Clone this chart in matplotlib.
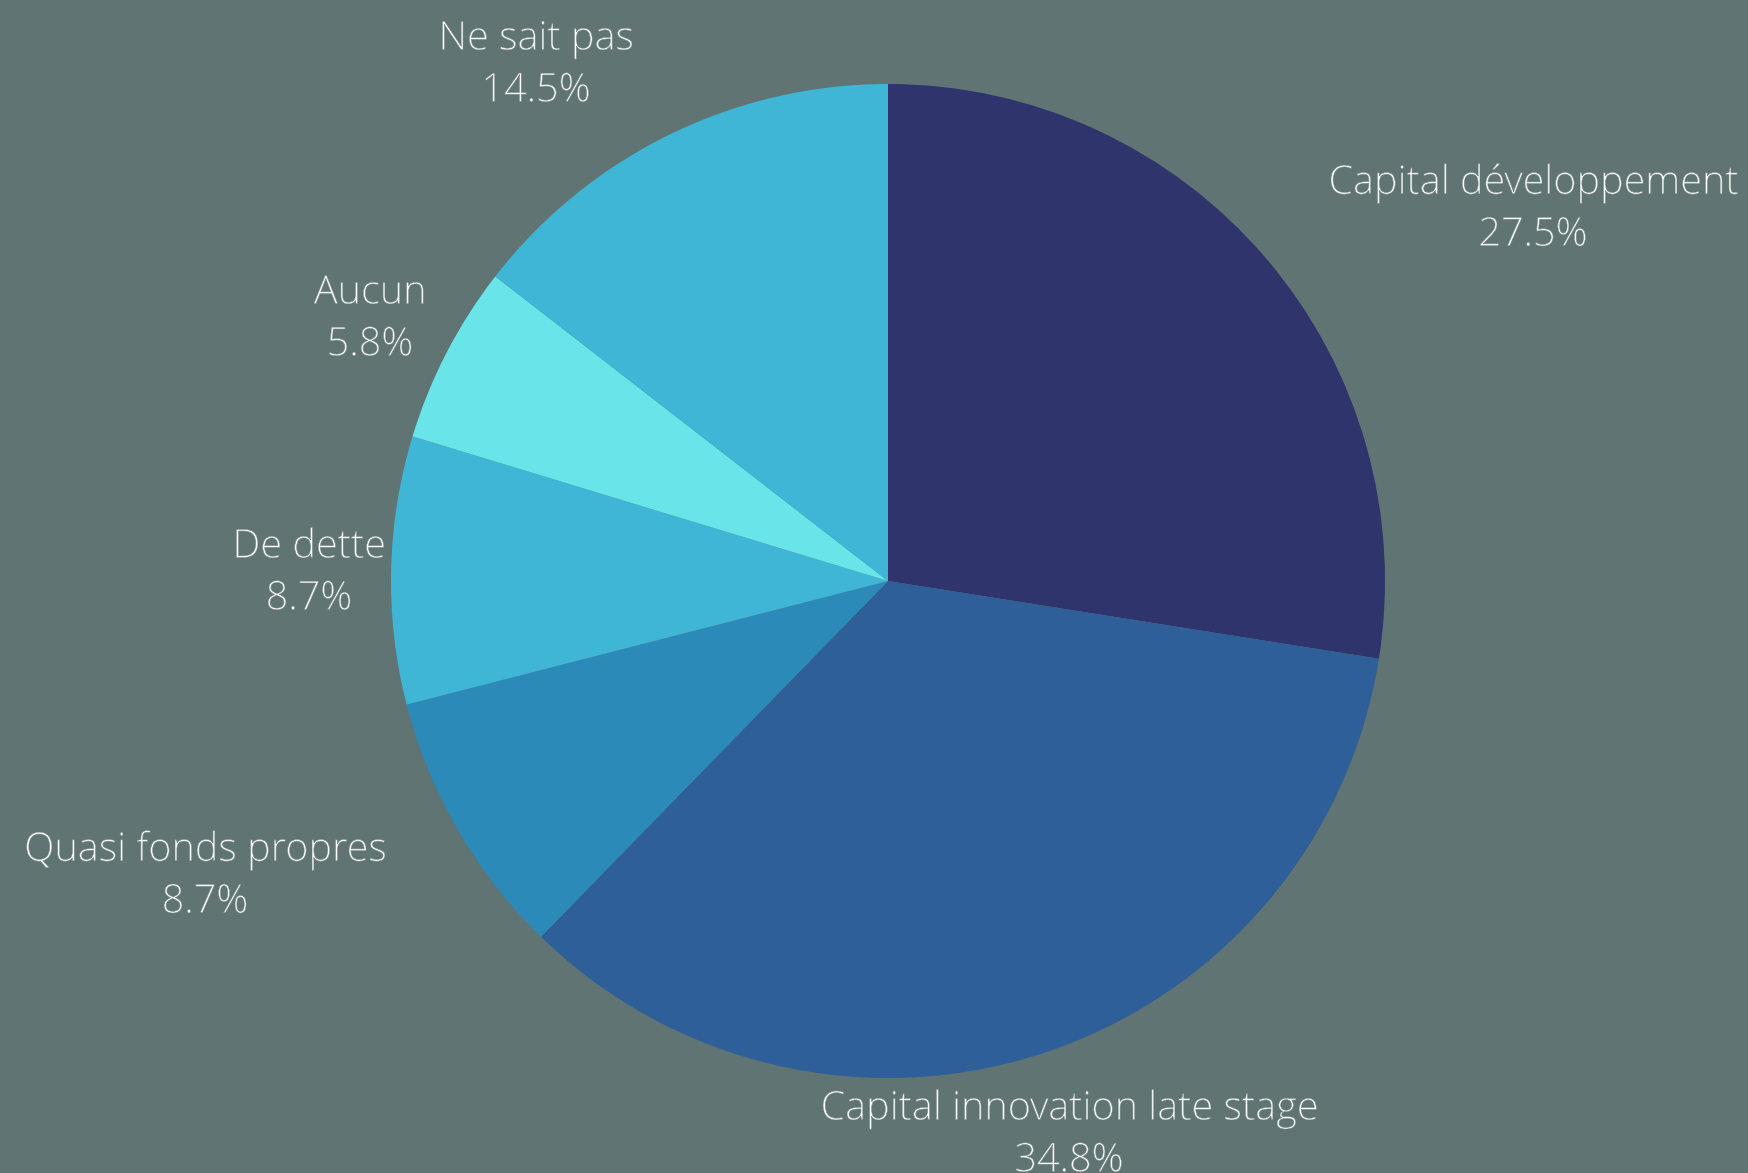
import matplotlib
matplotlib.use('Agg')
import matplotlib.pyplot as plt
import matplotlib.patheffects as pe

# parts of the pie, clockwise from 12 o'clock
categories = ['Capital développement', 'Capital innovation late stage',
              'Quasi fonds propres', 'De dette', 'Aucun', 'Ne sait pas']
shares = [27.5, 34.8, 8.7, 8.7, 5.8, 14.5]
colors = ['#2f346c', '#2e5f99', '#2b8ab8', '#40b6d6', '#69e5e9', '#40b6d6']

# where each label block is centred, in pixels from the top-left corner
label_pos = [(1533, 209), (1069, 1135), (205, 876), (309, 573), (370, 319), (536, 65)]

W, H = 1748, 1173
bg = '#607473'

fig = plt.figure(figsize=(W / 100, H / 100), dpi=100, facecolor=bg)
ax = fig.add_axes([0, 0, 1, 1])
ax.set_facecolor(bg)

ax.pie(shares, colors=colors, startangle=90, counterclock=False,
       center=(888, H - 581), radius=497, wedgeprops={'linewidth': 0})

# thin the glyphs a touch so they look closer to the light weight
thin = [pe.Normal(), pe.Stroke(linewidth=0.4, foreground=bg)]

for name, val, (x, y) in zip(categories, shares, label_pos):
    ax.text(x, H - y, '{}\n{:.1f}%'.format(name, val), ha='center', va='center',
            color='white', fontsize=28.5, family='Open Sans', fontweight='light',
            linespacing=1.35, path_effects=thin)

ax.set_xlim(0, W)
ax.set_ylim(0, H)
ax.set_aspect('equal')
ax.axis('off')

fig.savefig('out.png', dpi=100, facecolor=bg)
